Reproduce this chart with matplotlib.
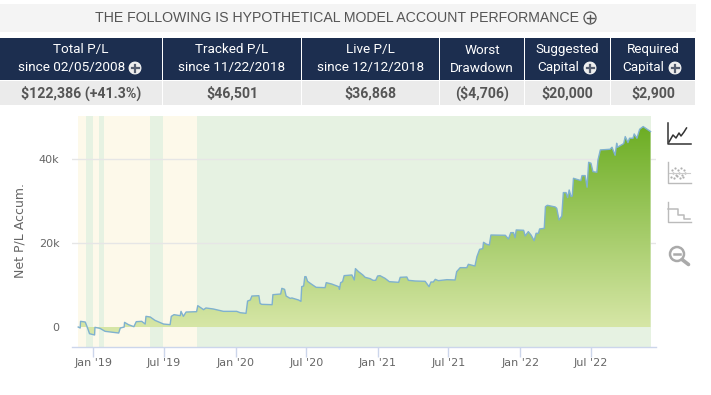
import numpy as np
import matplotlib
matplotlib.use("Agg")
import matplotlib.pyplot as plt
import matplotlib.dates as mdates
from matplotlib.patches import Rectangle, Circle, PathPatch

title = "THE FOLLOWING IS HYPOTHETICAL MODEL ACCOUNT PERFORMANCE"
col_heads = [("Total P/L", "since 02/05/2008"), ("Tracked P/L", "since 11/22/2018"),
             ("Live P/L", "since 12/12/2018"), ("Worst", "Drawdown"),
             ("Suggested", "Capital"), ("Required", "Capital")]
col_vals = ["$122,386 (+41.3%)", "$46,501", "$36,868", "($4,706)", "$20,000", "$2,900"]
col_plus = [True, False, False, False, True, True]

origin = np.datetime64("2019-01-01")
days = [-39,-34,-33,-21,-15,-10,3,4,17,30,65,69,79,80,90,104,110,124,133,135,146,158,180,197,200,207,223,225,231,238,265,268,278,283,289,308,334,
        351,368,377,392,396,403,407,425,428,432,459,461,481,484,491,495,505,510,527,533,535,540,543,546,550,557,572,595,598,612,630,632,635,640,644,664,670,673,681,692,698,711,718,725,730,736,749,760,784,788,805,809,826,852,862,867,873,878,886,908,929,933,942,959,963,
        980,985,992,1000,1002,1010,1017,1021,1058,1066,1072,1079,1083,1086,1105,1109,1117,1124,1132,1137,1143,1146,1158,1161,1166,1186,1190,1196,1203,1207,1214,1218,1222,1227,1230,1233,1252,1255,1263,1268,1272,1278,1283,1293,1296,1302,1327,1332,1340,1344,1346,1362,1366,1373,1377,1386,1389,1396,1403,1412,1422,1431]
pnl = [0,-240,1350,1190,-240,-1590,-1900,-80,-320,-1030,-1430,-240,0,1110,560,80,1270,1350,710,2540,2380,1590,710,560,2540,2940,2700,3730,2540,3570,3650,5080,4450,4130,4530,4290,3730,
       3730,3730,3410,3260,6190,6430,7380,7460,5640,5400,5320,7700,7860,9210,8970,7380,6830,6910,6430,6110,9610,9770,11990,11990,10880,10400,9450,9370,10560,10240,9610,8970,10560,10800,12230,12390,11200,13900,13180,12390,11830,11510,11120,11120,12150,12230,11590,10800,10640,11830,11910,11120,10960,10880,9610,10720,10720,11350,11040,11270,11200,13180,14130,14130,14930,
       14530,16750,18500,18660,20170,19690,19530,21910,21840,20960,22470,22470,21280,23110,23030,21680,22710,21910,20560,22310,22310,23340,23500,28660,28980,28580,28270,25490,26440,32000,32000,30810,32630,31050,31200,35410,34860,36050,36050,33270,39220,38990,37000,36840,39780,42160,42320,42800,40890,43750,42800,43670,45340,43910,44940,44940,45970,44940,47080,47720,47080,46530]
green_spans = [(-20, 0), (15, 27), (146, 178), (267, 1431)]
yellow_span = (-39, 1431)
x_ticks = ["2019-01-01", "2019-07-01", "2020-01-01", "2020-07-01", "2021-01-01", "2021-07-01", "2022-01-01", "2022-07-01"]
x_tick_labels = ["Jan '19", "Jul '19", "Jan '20", "Jul '20", "Jan '21", "Jul '21", "Jan '22", "Jul '22"]
y_ticks = [0, 20000, 40000]
y_tick_labels = ["0", "20k", "40k"]

W, H = 711, 395
fig = plt.figure(figsize=(W / 100, H / 100), dpi=100, facecolor="white")

def d2n(d):
    return mdates.date2num(origin + np.timedelta64(int(d), "D"))

x = np.array([d2n(d) for d in days])
y = np.array(pnl, dtype=float)

ax = fig.add_axes([72 / W, 1 - 346.5 / H, (656 - 72) / W, (346.5 - 116) / H])
ax.set_facecolor("white")
ax.axvspan(d2n(yellow_span[0]), d2n(yellow_span[1]), color="#fdf9ea", lw=0, zorder=0)
for a, b in green_spans:
    ax.axvspan(d2n(a), d2n(b), color="#e6f2e2", lw=0, zorder=0.5)
for t in y_ticks[1:]:
    ax.axhline(t, color="#e6e6e6", lw=1, zorder=1)

y_low, y_high = -4640, 50240
x_low, x_high = d2n(-55), d2n(1445)
c_top = np.array(matplotlib.colors.to_rgb("#6bad22"))
c_zero = np.array(matplotlib.colors.to_rgb("#d6e6a6"))
grad_y = np.linspace(48000, -2000, 200)
frac = np.clip(grad_y / 48000, 0, 1)[:, None, None]
grad = c_zero[None, None, :] * (1 - frac) + c_top[None, None, :] * frac
im = ax.imshow(grad, extent=(x_low, x_high, -2000, 48000), aspect="auto", origin="upper", zorder=2, interpolation="bilinear")
poly = ax.fill_between(x, y, 0, color="none", lw=0)
clip = poly.get_paths()[0]
im.set_clip_path(PathPatch(clip, transform=ax.transData))
ax.plot(x, y, color="#7fb1cf", lw=1.0, zorder=3, solid_joinstyle="round")

ax.set_xlim(x_low, x_high)
ax.set_ylim(y_low, y_high)
ax.set_yticks(y_ticks, y_tick_labels, fontsize=8, color="#666666", fontfamily="DejaVu Sans")
ax.tick_params(axis="y", length=0, pad=9)
ax.set_xticks([mdates.date2num(np.datetime64(t)) for t in x_ticks], x_tick_labels,
              fontsize=8, color="#666666", fontfamily="DejaVu Sans")
ax.tick_params(axis="x", length=7, width=1, color="#ccd6eb", pad=1)
for s in ("top", "left", "right"):
    ax.spines[s].set_visible(False)
ax.spines["bottom"].set_color("#ccd6eb")
ax.spines["bottom"].set_linewidth(1)
fig.text(20 / W, 1 - 231 / H, "Net P/L Accum.", rotation=90, fontsize=9, color="#666666",
         ha="center", va="center", fontfamily="DejaVu Sans")

ov = fig.add_axes([0, 0, 1, 1], facecolor="none")
ov.set_xlim(0, W); ov.set_ylim(H, 0); ov.axis("off")

def rect(x0, y0, x1, y1, c):
    ov.add_patch(Rectangle((x0, y0), x1 - x0, y1 - y0, fc=c, ec="none", zorder=1))

rect(0, 4, 696, 32, "#f4f4f4")
ov.text(337, 18.5, title, ha="center", va="center", fontsize=10.15, color="#555555", family="Liberation Sans")
ov.add_patch(Circle((590, 18), 6, fc="none", ec="#555555", lw=0.9, zorder=3))
ov.plot([586.5, 593.5], [18, 18], color="#555555", lw=1, zorder=3)
ov.plot([590, 590], [14.5, 21.5], color="#555555", lw=1, zorder=3)

edges = [0, 162, 301, 439, 524, 610, 695]
for i in range(6):
    x0, x1 = edges[i] + (1 if i else 0), edges[i + 1]
    rect(x0, 38, x1, 80, "#1c2e4f")
    rect(x0, 80.7, x1, 105, "#ebebeb")
    cx = (x0 + x1) / 2
    l1, l2 = col_heads[i]
    ov.text(cx, 50, l1, ha="center", va="center", fontsize=9.7, color="white", family="Roboto", zorder=4)
    t2 = cx - 9.5 if col_plus[i] else cx
    ov.text(t2, 68, l2, ha="center", va="center", fontsize=9.7, color="white", family="Roboto", zorder=4)
    ov.text(cx, 93, col_vals[i], ha="center", va="center", fontsize=10.2, color="#555555", fontweight="bold", family="Roboto", zorder=4)

plus_pos = [(135, 68), (590, 68), (675, 68)]
for px, py in plus_pos:
    ov.add_patch(Circle((px, py), 6, fc="#eeeeee", ec="white", lw=0.6, zorder=5))
    ov.plot([px - 3.5, px + 3.5], [py, py], color="#555e70", lw=1.6, zorder=6)
    ov.plot([px, px], [py - 3.5, py + 3.5], color="#555e70", lw=1.6, zorder=6)

# right-hand chart type icons
ov.plot([667.5, 667.5, 691], [123, 144, 144], color="#333333", lw=1.1)
ov.plot([669, 673, 676, 679, 681, 684, 686.5], [142, 135, 138, 133, 136, 132, 128], color="#333333", lw=1.1)
ov.plot([667.5, 667.5, 691], [162, 183, 183], color="#bbbbbb", lw=1)
ov.plot([669, 690], [173, 173], color="#cccccc", lw=0.8)
ox = np.array([672, 675, 678, 681, 684, 673, 676, 679, 682, 685, 671, 674, 677, 680, 683])
oy = np.array([170, 168, 170, 168, 170, 173, 175, 173, 175, 173, 177, 178, 176, 178, 177])
ov.scatter(ox, oy, s=2.5, color="#b0b0b0", lw=0)
ov.plot([667.5, 667.5, 691], [202, 222, 222], color="#bbbbbb", lw=1)
ov.plot([668, 678, 678, 684, 684, 690], [209, 209, 215, 215, 219, 219], color="#bbbbbb", lw=1.1)
ov.add_patch(Circle((677, 254), 7, fc="none", ec="#aaaaaa", lw=1.8))
ov.plot([682, 688.5], [259.5, 264.5], color="#aaaaaa", lw=2.6, solid_capstyle="round")
ov.plot([674, 680], [254, 254], color="#aaaaaa", lw=1.8)

fig.savefig("out.png", dpi=100, facecolor="white")
